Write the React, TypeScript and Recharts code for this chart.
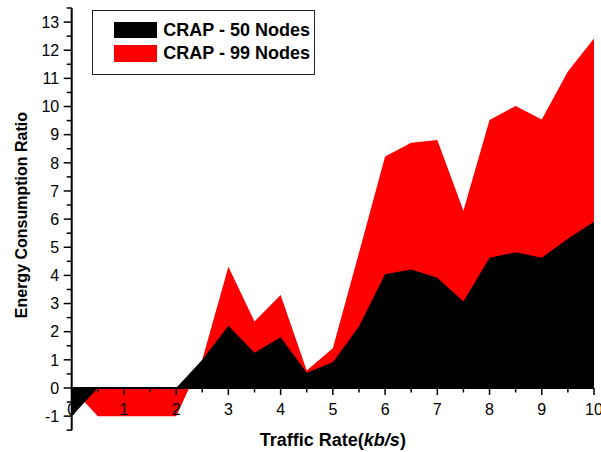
import {
  AreaChart,
  Area,
  XAxis,
  YAxis,
  ReferenceLine,
  ReferenceDot,
  Legend
} from 'recharts';

// Traffic rate (kb/s) sample points
const RATES = [0, 0.5, 1, 1.5, 2, 2.5, 3, 3.5, 4, 4.5, 5, 5.5, 6, 6.5, 7, 7.5, 8, 8.5, 9, 9.5, 10];

// Energy consumption ratio per network size
const NODES_50 = [-1, 0, 0, 0, 0, 1, 2.21, 1.25, 1.8, 0.54, 0.91, 2.18, 4.04, 4.21, 3.92, 3.07, 4.63, 4.82, 4.63, 5.3, 5.91];
const NODES_99 = [0, -1, -1, -1, -1, 1, 4.31, 2.36, 3.3, 0.62, 1.41, 4.8, 8.22, 8.71, 8.81, 6.3, 9.52, 10.02, 9.54, 11.24, 12.42];

const X_LABELS = [0, 1, 2, 3, 4, 5, 6, 7, 8, 9, 10];
const Y_TICKS = [
  -1.5, -1, -0.5, 0, 0.5, 1, 1.5, 2, 2.5, 3, 3.5, 4, 4.5, 5, 5.5, 6, 6.5,
  7, 7.5, 8, 8.5, 9, 9.5, 10, 10.5, 11, 11.5, 12, 12.5, 13, 13.5
];

const FONT = 'Arial, "Liberation Sans", sans-serif';

const rows = RATES.map((rate, i) => ({ rate, n50: NODES_50[i], n99: NODES_99[i] }));

const YTick = (props: any) => {
  const { x, y, payload } = props;
  const v = payload.value;
  const major = Number.isInteger(v);
  return (
    <g>
      <line x1={x} y1={y} x2={x - (major ? 8 : 5)} y2={y} stroke="#000" strokeWidth={1.5} />
      {major && (
        <text x={x - 12.5} y={y} dy="0.36em" textAnchor="end" fontSize={16} fontFamily={FONT} fill="#000">
          {v}
        </text>
      )}
    </g>
  );
};

// tick marks + labels sitting on the y = 0 line
const XTick = ({ cx, cy, value }: { cx: number; cy: number; value: number }) => {
  const major = X_LABELS.includes(value);
  return (
    <g>
      <line x1={cx} y1={cy} x2={cx} y2={cy + (major ? 7 : 4.5)} stroke="#000" strokeWidth={1.5} />
      {major && (
        <text x={cx} y={cy + 27} textAnchor="middle" fontSize={16} fontFamily={FONT} fill="#000">
          {value}
        </text>
      )}
    </g>
  );
};

const XTitle = (props: any) => {
  const vb = props.viewBox || { x: 0, y: 0, width: 0, height: 0 };
  return (
    <text
      x={vb.x + vb.width / 2}
      y={vb.y + 16}
      textAnchor="middle"
      fontSize={18}
      fontWeight="bold"
      fontFamily={FONT}
      fill="#000"
    >
      Traffic Rate(<tspan fontStyle="italic">kb/s</tspan>)
    </text>
  );
};

const YTitle = (props: any) => {
  const vb = props.viewBox || { x: 0, y: 0, width: 0, height: 0 };
  const x = vb.x + 19;
  const y = vb.y + vb.height / 2 - 4;
  return (
    <text
      x={x}
      y={y}
      transform={`rotate(-90, ${x}, ${y})`}
      textAnchor="middle"
      fontSize={16}
      fontWeight="bold"
      fontFamily={FONT}
      fill="#000"
    >
      Energy Consumption Ratio
    </text>
  );
};

const LegendBox = (props: any) => {
  const items = [...(props.payload ?? [])].sort((a: any, b: any) =>
    String(a.value).localeCompare(String(b.value))
  );
  return (
    <div
      style={{
        width: 223,
        height: 65,
        boxSizing: 'border-box',
        border: '1px solid #222',
        background: '#fff',
        paddingTop: 7.3,
        fontFamily: FONT,
        fontWeight: 'bold',
        fontSize: 18,
        color: '#000'
      }}
    >
      {items.map((it: any) => (
        <div key={it.value} style={{ display: 'flex', alignItems: 'center', height: 23.3, paddingLeft: 21.6 }}>
          <span style={{ display: 'inline-block', width: 42.4, height: 16.7, background: it.color, marginRight: 6.6 }} />
          <span style={{ whiteSpace: 'nowrap', lineHeight: 1 }}>{it.value}</span>
        </div>
      ))}
    </div>
  );
};

export default function App() {
  return (
    <>
      {/* drop the default body margin so the chart fills the window */}
      <style>{'body { margin: 0; }'}</style>
      <div style={{ position: 'relative', width: 601, height: 452 }}>
        <AreaChart
          width={601}
          height={452}
          data={rows}
          margin={{ top: 8, right: 7, bottom: 0, left: 8 }}
        >
          <XAxis
            dataKey="rate"
            type="number"
            domain={[0, 10]}
            ticks={RATES}
            axisLine={false}
            tickLine={false}
            tick={false}
            height={21.8}
            label={<XTitle />}
          />
          <YAxis
            type="number"
            domain={[-1.5, 13.5]}
            ticks={Y_TICKS}
            interval={0}
            width={63.7}
            axisLine={{ stroke: '#000', strokeWidth: 2 }}
            tickLine={false}
            tickSize={0}
            tickMargin={0}
            tick={<YTick />}
            label={<YTitle />}
          />
          <Area
            type="linear"
            dataKey="n99"
            name="CRAP - 99 Nodes"
            stroke="none"
            fill="#ff0000"
            fillOpacity={1}
            baseValue={0}
            isAnimationActive={false}
            activeDot={false}
          />
          <Area
            type="linear"
            dataKey="n50"
            name="CRAP - 50 Nodes"
            stroke="none"
            fill="#000000"
            fillOpacity={1}
            baseValue={0}
            isAnimationActive={false}
            activeDot={false}
          />
          <ReferenceLine y={0} stroke="#000" strokeWidth={2} isFront />
          {RATES.map((t) => (
            <ReferenceDot
              key={t}
              x={t}
              y={0}
              isFront
              ifOverflow="visible"
              shape={(p: any) => <XTick cx={p.cx} cy={p.cy} value={t} />}
            />
          ))}
          <Legend
            layout="horizontal"
            verticalAlign="middle"
            align="center"
            width={223}
            wrapperStyle={{ top: 10, left: 91.7, width: 223 }}
            content={<LegendBox />}
          />
        </AreaChart>
      </div>
    </>
  );
}
